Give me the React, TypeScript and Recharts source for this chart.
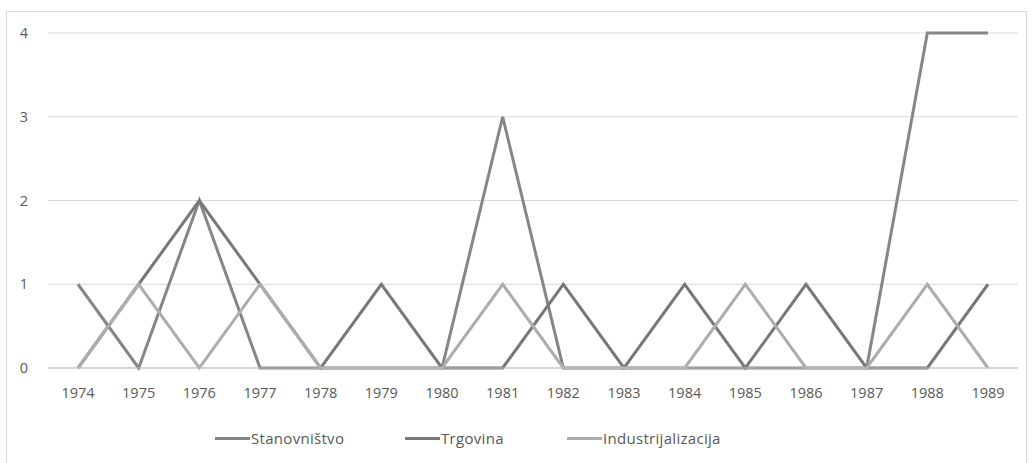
import React from 'react';
import { LineChart, Line, XAxis, YAxis, CartesianGrid, Legend } from 'recharts';

const years = ['1974', '1975', '1976', '1977', '1978', '1979', '1980', '1981', '1982', '1983', '1984', '1985', '1986', '1987', '1988', '1989'];
const stanovnistvo = [1, 0, 2, 0, 0, 0, 0, 3, 0, 0, 0, 0, 0, 0, 4, 4];
const trgovina = [0, 1, 2, 1, 0, 1, 0, 0, 1, 0, 1, 0, 1, 0, 0, 1];
const industrijalizacija = [0, 1, 0, 1, 0, 0, 0, 1, 0, 0, 0, 1, 0, 0, 1, 0];
const yTicks = [0, 1, 2, 3, 4];

const series = [
  { key: 'Stanovništvo', color: '#868686' },
  { key: 'Trgovina', color: '#787878' },
  { key: 'Industrijalizacija', color: '#adadad' },
];

const data = years.map((y, i) => ({
  year: y,
  'Stanovništvo': stanovnistvo[i],
  'Trgovina': trgovina[i],
  'Industrijalizacija': industrijalizacija[i],
}));

const font = '"Open Sans", "DejaVu Sans", sans-serif';

function LegendContent() {
  const lefts = [215, 405, 567];
  return (
    <div style={{ position: 'relative', height: 20, width: 1032 }}>
      {series.map((s, i) => (
        <div
          key={s.key}
          style={{ position: 'absolute', left: lefts[i], top: 0, display: 'flex', alignItems: 'center', fontFamily: font, fontSize: 15, letterSpacing: 0.3, color: '#595959' }}
        >
          <span style={{ display: 'inline-block', width: 35, height: 3, backgroundColor: s.color, marginRight: 1 }} />
          {s.key}
        </div>
      ))}
    </div>
  );
}

export default function App() {
  return (
    <div style={{ position: 'relative', width: 1032, height: 463, background: '#fff', overflow: 'hidden' }}>
      <style>{'body{margin:0}'}</style>
      <div style={{ position: 'absolute', left: 6, top: 11, width: 1019, height: 470, border: '1px solid #d9d9d9' }} />
      <div style={{ position: 'absolute', left: 0, top: 0 }}>
        <LineChart width={1032} height={463} data={data} margin={{ top: 33, right: 14, bottom: 45, left: 0 }}>
          <CartesianGrid vertical={false} stroke="#d9d9d9" strokeWidth={1} />
          <XAxis
            dataKey="year"
            height={30}
            padding={{ left: 30, right: 30 }}
            axisLine={{ stroke: '#bfbfbf', strokeWidth: 1 }}
            tickLine={false}
            tickMargin={14}
            tick={{ fill: '#595959', fontSize: 14.5, fontFamily: font }}
            interval={0}
          />
          <YAxis
            width={48}
            domain={[0, 4]}
            ticks={yTicks}
            axisLine={false}
            tickLine={false}
            tickSize={0}
            tickMargin={20}
            tick={{ fill: '#595959', fontSize: 14.5, fontFamily: font }}
          />
          {series.map((s) => (
            <Line
              key={s.key}
              type="linear"
              dataKey={s.key}
              stroke={s.color}
              strokeWidth={3}
              dot={false}
              isAnimationActive={false}
            />
          ))}
          <Legend
            content={<LegendContent />}
            wrapperStyle={{ position: 'absolute', left: 0, top: 428, width: 1032 }}
          />
        </LineChart>
      </div>
    </div>
  );
}
